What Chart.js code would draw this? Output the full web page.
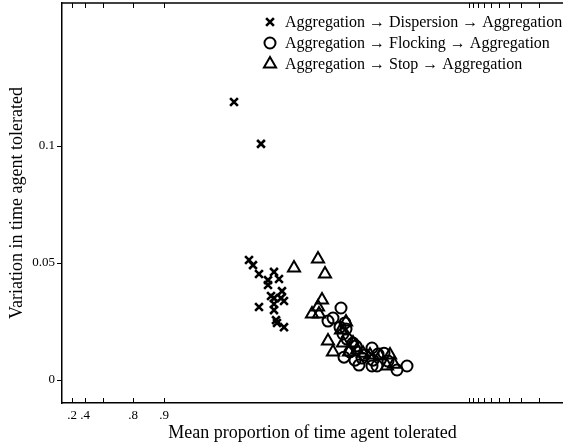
<!DOCTYPE html>
<html>
<head>
<meta charset="utf-8">
<script src="https://cdn.jsdelivr.net/npm/chart.js@4/dist/chart.umd.min.js"></script>
<style>
html,body{margin:0;padding:0;background:#fff;overflow:hidden;}
#wrap{width:563px;height:445px;}
</style>
</head>
<body>
<div id="wrap"><canvas id="c" width="563" height="445"></canvas></div>
<script>
// ---- data (x: position along the mean-proportion axis, y: variation) ----
const seriesNames = [
  "Aggregation \u2192 Dispersion \u2192 Aggregation",
  "Aggregation \u2192 Flocking \u2192 Aggregation",
  "Aggregation \u2192 Stop \u2192 Aggregation"
];
const dispersionX = [0.344,0.398,0.374,0.382,0.394,0.424,0.412,0.434,0.412,0.440,0.418,0.424,0.438,0.444,0.424,0.394,0.424,0.428,0.430,0.444];
const dispersionY = [0.1188,0.1009,0.0513,0.0491,0.0453,0.0462,0.0427,0.0432,0.0406,0.0380,0.0359,0.0350,0.0350,0.0338,0.0325,0.0312,0.0299,0.0256,0.0244,0.0226];
const flockingX = [0.558,0.532,0.542,0.556,0.568,0.562,0.570,0.566,0.582,0.588,0.564,0.586,0.594,0.606,0.620,0.622,0.632,0.644,0.630,0.620,0.652,0.670,0.690,0.576,0.600];
const flockingY = [0.0308,0.0252,0.0265,0.0226,0.0218,0.0197,0.0175,0.0244,0.0158,0.0145,0.0098,0.0085,0.0064,0.0107,0.0137,0.0085,0.0111,0.0115,0.0060,0.0060,0.0081,0.0043,0.0060,0.0120,0.0094];
const stopX = [0.464,0.512,0.526,0.520,0.512,0.500,0.514,0.532,0.542,0.558,0.568,0.582,0.574,0.590,0.602,0.616,0.636,0.656,0.650,0.664,0.562];
const stopY = [0.0479,0.0517,0.0453,0.0342,0.0312,0.0282,0.0282,0.0167,0.0120,0.0214,0.0248,0.0158,0.0120,0.0128,0.0115,0.0107,0.0103,0.0107,0.0060,0.0068,0.0158];

const xTickValues = [0.020,0.046,0.082,0.142,0.204,0.814,0.822,0.832,0.844,0.858,0.874,0.894,0.918,0.954];
const xTickLabels = [".2",".4","",".8",".9","","","","","","","","",""];
const yTickValues = [0, 0.05, 0.1];
const yTickLabels = ["0","0.05","0.1"];

const toPts = (xs, ys) => xs.map((x, i) => ({x: x, y: ys[i]}));
const SERIF = "'Liberation Serif','DejaVu Serif',serif";

const inwardTicks = {
  id: 'inwardTicks',
  afterDraw(chart) {
    const ctx = chart.ctx, a = chart.chartArea, xs = chart.scales.x;
    ctx.save();
    ctx.strokeStyle = '#000';
    ctx.lineWidth = 1.5;
    ctx.beginPath();
    ctx.moveTo(a.left, a.top); ctx.lineTo(a.right, a.top);
    ctx.stroke();
    ctx.lineWidth = 1;
    xTickValues.forEach(v => {
      const px = Math.round(xs.getPixelForValue(v)) + 0.5;
      ctx.beginPath();
      ctx.moveTo(px, a.bottom); ctx.lineTo(px, a.bottom - 5);
      ctx.moveTo(px, a.top); ctx.lineTo(px, a.top + 5);
      ctx.stroke();
    });
    ctx.restore();
  }
};

const customLegend = {
  id: 'customLegend',
  afterDraw(chart) {
    const ctx = chart.ctx;
    const rows = [22, 43, 64];
    chart.data.datasets.forEach((ds, i) => {
      const y = rows[i];
      ctx.save();
      ctx.strokeStyle = '#000';
      ctx.fillStyle = 'rgba(0,0,0,0)';
      ctx.lineWidth = ds.borderWidth;
      Chart.helpers.drawPoint(ctx, {
        pointStyle: ds.pointStyle, radius: ds.pointRadius, rotation: 0,
        borderWidth: ds.borderWidth
      }, 270, y);
      ctx.restore();
      ctx.save();
      ctx.fillStyle = '#000';
      ctx.font = "16px " + SERIF;
      ctx.textBaseline = 'middle';
      ctx.textAlign = 'left';
      ctx.fillText(seriesNames[i], 285, y + 1);
      ctx.restore();
    });
  }
};

const common = {borderColor:'#000', backgroundColor:'rgba(0,0,0,0)', pointHoverRadius:5};

new Chart(document.getElementById('c'), {
  type: 'scatter',
  data: {
    datasets: [
      Object.assign({label: seriesNames[0], data: toPts(dispersionX, dispersionY), pointStyle:'crossRot', pointRadius:5.5, borderWidth:2.6}, common),
      Object.assign({label: seriesNames[1], data: toPts(flockingX, flockingY), pointStyle:'circle', pointRadius:5.5, borderWidth:2}, common),
      Object.assign({label: seriesNames[2], data: toPts(stopX, stopY), pointStyle:'triangle', pointRadius:7, borderWidth:2}, common)
    ]
  },
  options: {
    responsive: false,
    animation: false,
    layout: {autoPadding: false, padding: {top: 3, right: 0, left: 0, bottom: 0}},
    plugins: {legend: {display: false}, tooltip: {enabled: false}},
    scales: {
      x: {
        type: 'linear', min: 0, max: 1.002,
        afterBuildTicks: s => { s.ticks = xTickValues.map(v => ({value: v})); },
        afterFit: s => { s.height = 42; s.paddingLeft = 0; s.paddingRight = 0; },
        border: {display: true, color: '#000', width: 1.5},
        grid: {display: false, drawTicks: false},
        ticks: {
          autoSkip: false, maxRotation: 0, padding: 5, color: '#000',
          font: {family: SERIF, size: 13},
          callback: (v, i) => xTickLabels[i]
        },
        title: {display: true, text: 'Mean proportion of time agent tolerated', color: '#000',
                font: {family: SERIF, size: 18}, padding: {top: 0, bottom: 1}}
      },
      y: {
        type: 'linear', min: -0.0098, max: 0.1611,
        afterBuildTicks: s => { s.ticks = yTickValues.map(v => ({value: v})); },
        afterFit: s => { s.width = 62; s.paddingTop = 0; s.paddingBottom = 0; },
        border: {display: true, color: '#000', width: 1.5},
        grid: {display: true, drawOnChartArea: false, drawTicks: true, tickLength: 5, color: '#000'},
        ticks: {
          padding: 2, color: '#000', font: {family: SERIF, size: 13},
          callback: (v, i) => yTickLabels[i]
        },
        title: {display: true, text: 'Variation in time agent tolerated', color: '#000',
                font: {family: SERIF, size: 18}, padding: {top: 6, bottom: 0}}
      }
    }
  },
  plugins: [inwardTicks, customLegend]
});
</script>
</body>
</html>
